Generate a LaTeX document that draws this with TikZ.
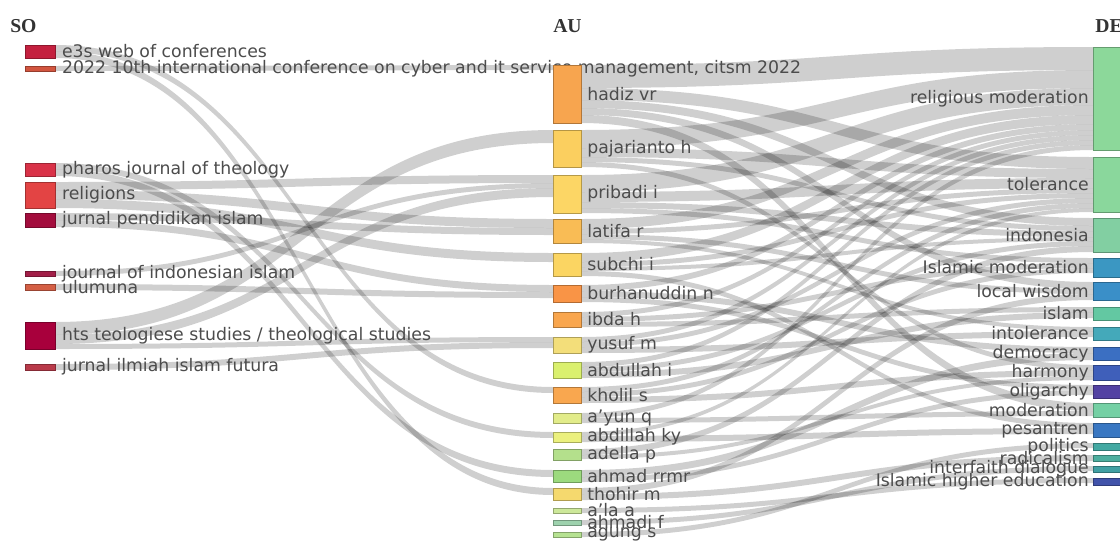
\documentclass[tikz,border=0pt]{standalone}
\usepackage{fontspec}
\setmainfont{DejaVu Sans}
\newfontfamily\headfont{Liberation Serif}
\usetikzlibrary{positioning,calc}
\pgfdeclarelayer{paper}
\pgfdeclarelayer{flows}
\pgfsetlayers{paper,flows,main}

\definecolor{soE3s}{HTML}{C4203F}
\definecolor{soIcc}{HTML}{D2553F}
\definecolor{soPharos}{HTML}{D93248}
\definecolor{soRel}{HTML}{E34444}
\definecolor{soJpi}{HTML}{A30D3D}
\definecolor{soJii}{HTML}{A21F48}
\definecolor{soUlum}{HTML}{D45F45}
\definecolor{soHts}{HTML}{A8003C}
\definecolor{soJiif}{HTML}{B93A4A}

\definecolor{auHadiz}{HTML}{F7A54F}
\definecolor{auPaj}{HTML}{FBCF5F}
\definecolor{auPrib}{HTML}{FCD665}
\definecolor{auLatifa}{HTML}{F9BC55}
\definecolor{auSubchi}{HTML}{FBD562}
\definecolor{auBurh}{HTML}{F99446}
\definecolor{auIbda}{HTML}{F9A64E}
\definecolor{auYusuf}{HTML}{F3DE7A}
\definecolor{auAbdullah}{HTML}{DAF06E}
\definecolor{auKholil}{HTML}{F9A74F}
\definecolor{auAyun}{HTML}{E2EC8A}
\definecolor{auAbdillah}{HTML}{EBF07E}
\definecolor{auAdella}{HTML}{B4E08C}
\definecolor{auAhmad}{HTML}{9CDA7E}
\definecolor{auThohir}{HTML}{F5D96E}
\definecolor{auAla}{HTML}{CDE89A}
\definecolor{auAhmadi}{HTML}{9ED2AE}
\definecolor{auAgung}{HTML}{B6E292}

\definecolor{deRelmod}{HTML}{8CD89A}
\definecolor{deTol}{HTML}{8AD79C}
\definecolor{deIndo}{HTML}{82CFA2}
\definecolor{deIslmod}{HTML}{3B97C2}
\definecolor{deLocal}{HTML}{3A8FC8}
\definecolor{deIslam}{HTML}{63C8A2}
\definecolor{deIntol}{HTML}{44A9BA}
\definecolor{deDemo}{HTML}{3B6FC2}
\definecolor{deHarm}{HTML}{3F5FBA}
\definecolor{deOlig}{HTML}{5342A3}
\definecolor{deMod}{HTML}{74D0A4}
\definecolor{dePes}{HTML}{3977C2}
\definecolor{dePol}{HTML}{43A8A2}
\definecolor{deRad}{HTML}{4DAE9E}
\definecolor{deIfd}{HTML}{41A0A3}
\definecolor{deIhe}{HTML}{4153AA}

\newcommand\pxu{0.025cm}

\tikzset{
  fieldbox/.style={anchor=north west, inner sep=0pt, outer sep=0pt,
    minimum width={28*\pxu}, line width=0.6pt},
  flowband/.style={fill=black, fill opacity=0.19},
  lbl/.style={inner sep=0pt, text=black!70, font=\fontsize{12.3}{14}\selectfont},
  head/.style={anchor=west, inner sep=0pt, text=black!80,
    font=\headfont\bfseries\fontsize{14}{16}\selectfont},
}

% column box: name, x, top, height, colour
\newcommand\fbx[5]{%
  \node[fieldbox, fill=#5, draw=#5!72!black, minimum height={#4*\pxu}] (#1) at (#2,#3) {};
  \expandafter\xdef\csname bin#1\endcsname{0}%
  \expandafter\xdef\csname bout#1\endcsname{0}}

% band between two boxes, stacked from the top of each: from, to, width
\newcommand\band[3]{%
  \edef\boa{\csname bout#1\endcsname}%
  \edef\bob{\csname bin#2\endcsname}%
  \pgfmathsetmacro\boc{\boa+#3}%
  \pgfmathsetmacro\bod{\bob+#3}%
  \begin{pgfonlayer}{flows}
  \path ($(#1.north east)+(0,\boa)$) coordinate (ba)
        ($(#2.north west)+(0,\bob)$) coordinate (bb)
        ($(#1.north east)+(0,\boc)$) coordinate (bc)
        ($(#2.north west)+(0,\bod)$) coordinate (bd)
        ($(ba)!.5!(bb)$) coordinate (bm);
  \fill[flowband] (ba) .. controls (bm |- ba) and (bm |- bb) .. (bb)
    -- (bd) .. controls (bm |- bd) and (bm |- bc) .. (bc) -- cycle;
  \end{pgfonlayer}
  \expandafter\xdef\csname bout#1\endcsname{\boc}%
  \expandafter\xdef\csname bin#2\endcsname{\bod}}

\begin{document}
\begin{tikzpicture}[x=\pxu, y=-\pxu]
  \useasboundingbox (0,0) rectangle (1120,542);
  \begin{pgfonlayer}{paper}
    \fill[white] (0,0) rectangle (1120,542);
  \end{pgfonlayer}

  \node[head] (so-head) at (10,26) {SO};
  \node[head] (au-head) at (553,26) {AU};
  \node[head] (de-head) at (1095,26) {DE};

  % sources
  \tikzset{fieldbox/.append style={minimum width={30*\pxu}}}
  \fbx{so-e3s}{25}{45}{13}{soE3s}
  \fbx{so-icc}{25}{66}{5}{soIcc}
  \fbx{so-pharos}{25}{163}{13}{soPharos}
  \fbx{so-rel}{25}{182}{26}{soRel}
  \fbx{so-jpi}{25}{213}{14}{soJpi}
  \fbx{so-jii}{25}{271}{5}{soJii}
  \fbx{so-ulum}{25}{284}{6}{soUlum}
  \fbx{so-hts}{25}{322}{27}{soHts}
  \fbx{so-jiif}{25}{364}{6}{soJiif}
  \node[lbl, right=0.17cm of so-e3s] (so-e3s-t) {e3s web of conferences};
  \node[lbl, right=0.17cm of so-icc] (so-icc-t) {2022 10th international conference on cyber and it service management, citsm 2022};
  \node[lbl, right=0.17cm of so-pharos] (so-pharos-t) {pharos journal of theology};
  \node[lbl, right=0.17cm of so-rel] (so-rel-t) {religions};
  \node[lbl, right=0.17cm of so-jpi] (so-jpi-t) {jurnal pendidikan islam};
  \node[lbl, right=0.17cm of so-jii] (so-jii-t) {journal of indonesian islam};
  \node[lbl, right=0.17cm of so-ulum] (so-ulum-t) {ulumuna};
  \node[lbl, right=0.17cm of so-hts] (so-hts-t) {hts teologiese studies / theological studies};
  \node[lbl, right=0.17cm of so-jiif] (so-jiif-t) {jurnal ilmiah islam futura};

  % authors
  \tikzset{fieldbox/.append style={minimum width={28*\pxu}}}
  \fbx{au-hadiz}{553}{65}{58}{auHadiz}
  \fbx{au-paj}{553}{130}{37}{auPaj}
  \fbx{au-prib}{553}{175}{38}{auPrib}
  \fbx{au-latifa}{553}{219}{24}{auLatifa}
  \fbx{au-subchi}{553}{253}{23}{auSubchi}
  \fbx{au-burh}{553}{285}{17}{auBurh}
  \fbx{au-ibda}{553}{312}{15}{auIbda}
  \fbx{au-yusuf}{553}{337}{16}{auYusuf}
  \fbx{au-abdullah}{553}{362}{16}{auAbdullah}
  \fbx{au-kholil}{553}{387}{16}{auKholil}
  \fbx{au-ayun}{553}{413}{10}{auAyun}
  \fbx{au-abdillah}{553}{432}{10}{auAbdillah}
  \fbx{au-adella}{553}{449}{11}{auAdella}
  \fbx{au-ahmad}{553}{470}{12}{auAhmad}
  \fbx{au-thohir}{553}{488}{12}{auThohir}
  \fbx{au-ala}{553}{508}{5}{auAla}
  \fbx{au-ahmadi}{553}{520}{5}{auAhmadi}
  \fbx{au-agung}{553}{532}{5}{auAgung}
  \node[lbl, right=0.15cm of au-hadiz] (au-hadiz-t) {hadiz vr};
  \node[lbl, right=0.15cm of au-paj] (au-paj-t) {pajarianto h};
  \node[lbl, right=0.15cm of au-prib] (au-prib-t) {pribadi i};
  \node[lbl, right=0.15cm of au-latifa] (au-latifa-t) {latifa r};
  \node[lbl, right=0.15cm of au-subchi] (au-subchi-t) {subchi i};
  \node[lbl, right=0.15cm of au-burh] (au-burh-t) {burhanuddin n};
  \node[lbl, right=0.15cm of au-ibda] (au-ibda-t) {ibda h};
  \node[lbl, right=0.15cm of au-yusuf] (au-yusuf-t) {yusuf m};
  \node[lbl, right=0.15cm of au-abdullah] (au-abdullah-t) {abdullah i};
  \node[lbl, right=0.15cm of au-kholil] (au-kholil-t) {kholil s};
  \node[lbl, right=0.15cm of au-ayun] (au-ayun-t) {a'yun q};
  \node[lbl, right=0.15cm of au-abdillah] (au-abdillah-t) {abdillah ky};
  \node[lbl, right=0.15cm of au-adella] (au-adella-t) {adella p};
  \node[lbl, right=0.15cm of au-ahmad] (au-ahmad-t) {ahmad rrmr};
  \node[lbl, right=0.15cm of au-thohir] (au-thohir-t) {thohir m};
  \node[lbl, right=0.15cm of au-ala] (au-ala-t) {a'la a};
  \node[lbl, right=0.15cm of au-ahmadi] (au-ahmadi-t) {ahmadi f};
  \node[lbl, right=0.15cm of au-agung] (au-agung-t) {agung s};

  % keywords
  \tikzset{fieldbox/.append style={minimum width={30*\pxu}}}
  \fbx{de-relmod}{1093}{47}{103}{deRelmod}
  \fbx{de-tol}{1093}{157}{55}{deTol}
  \fbx{de-indo}{1093}{218}{34}{deIndo}
  \fbx{de-islmod}{1093}{258}{19}{deIslmod}
  \fbx{de-local}{1093}{282}{18}{deLocal}
  \fbx{de-islam}{1093}{307}{13}{deIslam}
  \fbx{de-intol}{1093}{327}{13}{deIntol}
  \fbx{de-demo}{1093}{347}{13}{deDemo}
  \fbx{de-harm}{1093}{365}{15}{deHarm}
  \fbx{de-olig}{1093}{385}{13}{deOlig}
  \fbx{de-mod}{1093}{403}{14}{deMod}
  \fbx{de-pes}{1093}{423}{14}{dePes}
  \fbx{de-pol}{1093}{443}{7}{dePol}
  \fbx{de-rad}{1093}{455}{6}{deRad}
  \fbx{de-ifd}{1093}{466}{6}{deIfd}
  \fbx{de-ihe}{1093}{478}{7}{deIhe}
  \node[lbl, left=0.1cm of de-relmod] (de-relmod-t) {religious moderation};
  \node[lbl, left=0.1cm of de-tol] (de-tol-t) {tolerance};
  \node[lbl, left=0.1cm of de-indo] (de-indo-t) {indonesia};
  \node[lbl, left=0.1cm of de-islmod] (de-islmod-t) {Islamic moderation};
  \node[lbl, left=0.1cm of de-local] (de-local-t) {local wisdom};
  \node[lbl, left=0.1cm of de-islam] (de-islam-t) {islam};
  \node[lbl, left=0.1cm of de-intol] (de-intol-t) {intolerance};
  \node[lbl, left=0.1cm of de-demo] (de-demo-t) {democracy};
  \node[lbl, left=0.1cm of de-harm] (de-harm-t) {harmony};
  \node[lbl, left=0.1cm of de-olig] (de-olig-t) {oligarchy};
  \node[lbl, left=0.1cm of de-mod] (de-mod-t) {moderation};
  \node[lbl, left=0.1cm of de-pes] (de-pes-t) {pesantren};
  \node[lbl, left=0.1cm of de-pol] (de-pol-t) {politics};
  \node[lbl, left=0.1cm of de-rad] (de-rad-t) {radicalism};
  \node[lbl, left=0.1cm of de-ifd] (de-ifd-t) {interfaith dialogue};
  \node[lbl, left=0.1cm of de-ihe] (de-ihe-t) {Islamic higher education};

  % SO -> AU
  \band{so-e3s}{au-kholil}{6}
  \band{so-e3s}{au-thohir}{7}
  \band{so-icc}{au-hadiz}{5}
  \band{so-pharos}{au-abdillah}{6}
  \band{so-pharos}{au-ahmad}{7}
  \band{so-rel}{au-prib}{8}
  \band{so-rel}{au-latifa}{9}
  \band{so-rel}{au-subchi}{9}
  \band{so-jpi}{au-latifa}{7}
  \band{so-jpi}{au-burh}{7}
  \band{so-jii}{au-prib}{5}
  \band{so-ulum}{au-burh}{6}
  \band{so-hts}{au-paj}{13}
  \band{so-hts}{au-prib}{9}
  \band{so-hts}{au-yusuf}{5}
  \band{so-jiif}{au-yusuf}{6}

  % AU -> DE
  \band{au-hadiz}{de-relmod}{23}
  \band{au-hadiz}{de-tol}{12}
  \band{au-hadiz}{de-indo}{8}
  \band{au-hadiz}{de-local}{7}
  \band{au-hadiz}{de-mod}{8}
  \band{au-paj}{de-relmod}{18}
  \band{au-paj}{de-tol}{9}
  \band{au-paj}{de-indo}{5}
  \band{au-paj}{de-harm}{5}
  \band{au-prib}{de-relmod}{17}
  \band{au-prib}{de-tol}{10}
  \band{au-prib}{de-indo}{6}
  \band{au-prib}{de-islmod}{5}
  \band{au-latifa}{de-relmod}{10}
  \band{au-latifa}{de-tol}{5}
  \band{au-latifa}{de-local}{5}
  \band{au-latifa}{de-intol}{4}
  \band{au-subchi}{de-relmod}{9}
  \band{au-subchi}{de-tol}{5}
  \band{au-subchi}{de-indo}{4}
  \band{au-subchi}{de-pes}{5}
  \band{au-burh}{de-relmod}{6}
  \band{au-burh}{de-demo}{6}
  \band{au-burh}{de-olig}{5}
  \band{au-ibda}{de-relmod}{5}
  \band{au-ibda}{de-islmod}{5}
  \band{au-ibda}{de-islam}{5}
  \band{au-yusuf}{de-relmod}{5}
  \band{au-yusuf}{de-tol}{5}
  \band{au-yusuf}{de-intol}{6}
  \band{au-abdullah}{de-relmod}{5}
  \band{au-abdullah}{de-indo}{5}
  \band{au-abdullah}{de-islam}{6}
  \band{au-kholil}{de-tol}{5}
  \band{au-kholil}{de-islmod}{5}
  \band{au-kholil}{de-harm}{6}
  \band{au-ayun}{de-relmod}{5}
  \band{au-ayun}{de-mod}{5}
  \band{au-abdillah}{de-tol}{4}
  \band{au-abdillah}{de-pes}{6}
  \band{au-adella}{de-indo}{6}
  \band{au-adella}{de-harm}{4}
  \band{au-ahmad}{de-demo}{7}
  \band{au-ahmad}{de-olig}{5}
  \band{au-thohir}{de-local}{6}
  \band{au-thohir}{de-rad}{6}
  \band{au-ala}{de-ihe}{5}
  \band{au-ahmadi}{de-ifd}{5}
  \band{au-agung}{de-pol}{5}
\end{tikzpicture}
\end{document}
